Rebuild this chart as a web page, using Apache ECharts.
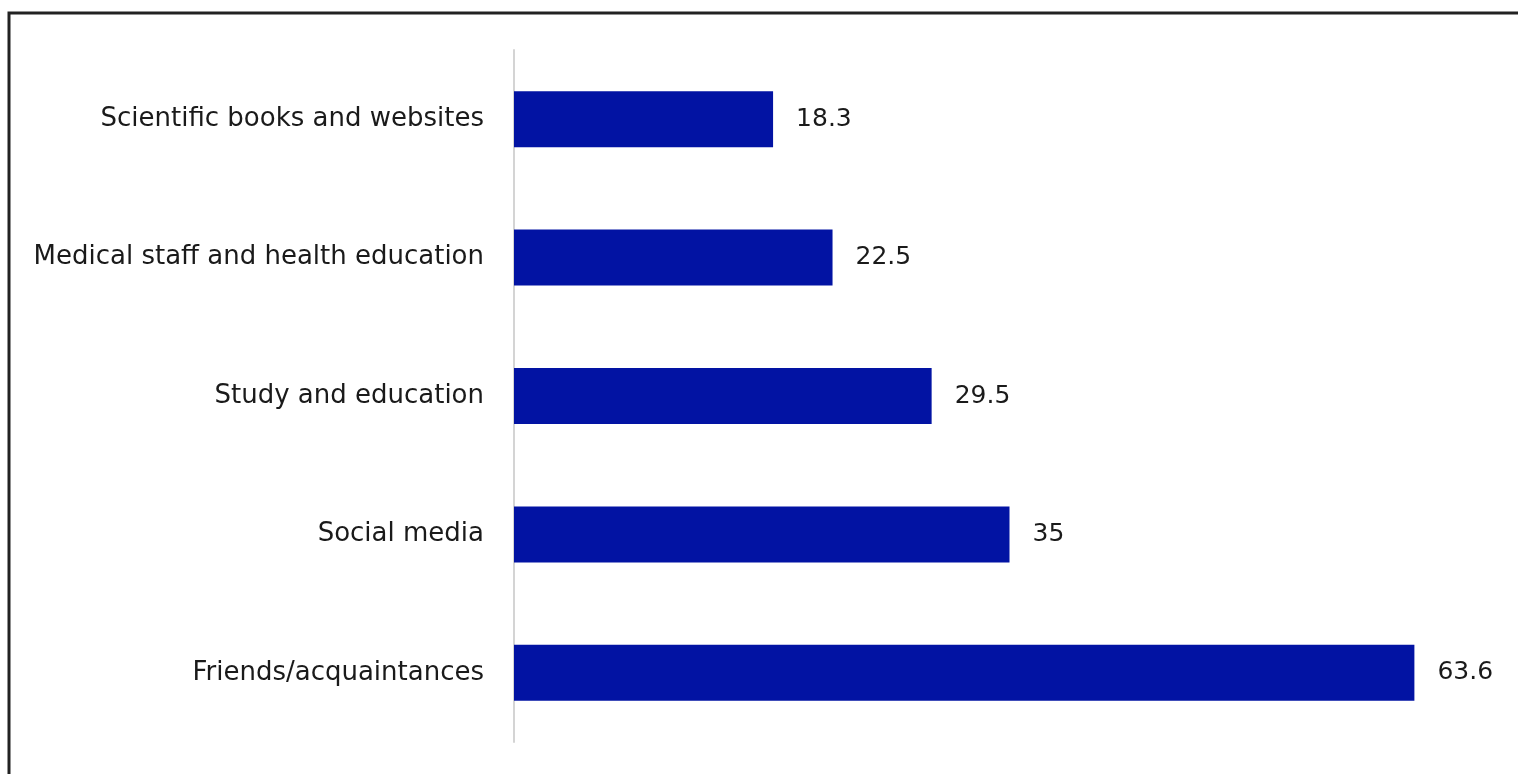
<!DOCTYPE html>
<html>
<head>
<meta charset="utf-8">
<script src="https://cdn.jsdelivr.net/npm/echarts@6/dist/echarts.min.js"></script>
<style>
html,body{margin:0;padding:0;background:#fff;}
#chart{width:1518px;height:774px;}
</style>
</head>
<body>
<div id="chart"></div>
<script>
const categories = [
  "Friends/acquaintances",
  "Social media",
  "Study and education",
  "Medical staff and health education",
  "Scientific books and websites"
];
const values = [63.6, 35, 29.5, 22.5, 18.3];

const chart = echarts.init(document.getElementById('chart'));
chart.setOption({
  backgroundColor: '#ffffff',
  animation: false,
  graphic: [{
    type: 'rect',
    shape: { x: 9, y: 13, width: 1540, height: 800 },
    style: { fill: 'none', stroke: '#222222', lineWidth: 3 },
    silent: true
  }],
  grid: { left: 514, right: 13, top: 50, bottom: 32, containLabel: false },
  xAxis: {
    type: 'value',
    min: 0,
    max: 70,
    show: false,
    splitLine: { show: false }
  },
  yAxis: {
    type: 'category',
    data: categories,
    axisLine: { show: true, lineStyle: { color: '#d4d4d4', width: 2 } },
    axisTick: { show: false },
    axisLabel: {
      color: '#1a1a1a',
      fontSize: 26,
      fontFamily: 'DejaVu Sans, sans-serif',
      margin: 30
    }
  },
  series: [{
    type: 'bar',
    data: values,
    barWidth: 56,
    itemStyle: { color: '#0213A3' },
    label: {
      show: true,
      position: 'right',
      distance: 23,
      color: '#1a1a1a',
      fontSize: 25,
      fontFamily: 'DejaVu Sans, sans-serif'
    }
  }]
});
</script>
</body>
</html>
